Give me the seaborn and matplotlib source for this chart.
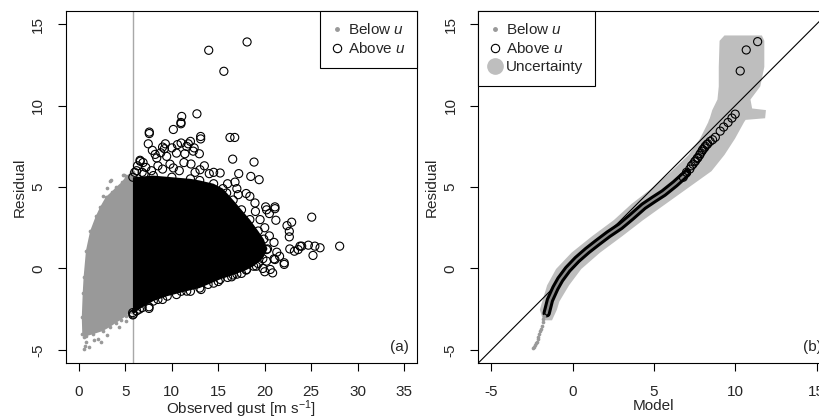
import matplotlib
matplotlib.use("Agg")
import matplotlib.pyplot as plt
from matplotlib.lines import Line2D
import seaborn as sns
import pandas as pd

# ---------------- data ----------------
threshold_u = 5.8

# dense "below u" cloud outline (panel a)
below_cloud_x = [0.35, 0.3, 0.4, 0.5, 0.75, 1.2, 1.8, 2.3, 2.9, 3.5, 4.0, 4.6, 5.06, 5.6, 5.8,
                 5.8, 5.5, 5.06, 4.5, 4.0, 3.3, 2.55, 1.47, 0.8, 0.57]
below_cloud_y = [-4.0, -3.0, -1.5, -0.5, 1.1, 2.3, 3.2, 3.8, 4.4, 4.7, 5.0, 5.3, 5.65, 5.9, 5.9,
                 -2.6, -2.7, -2.92, -3.15, -3.33, -3.6, -3.84, -4.04, -4.15, -4.2]
below_stray_x = [0.57, 0.6, 1.1, 2.37, 0.7, 1.6, 3.0, 2.0, 4.3, 5.1, 3.45, 4.88, 2.55, 3.34, 2.98, 4.77]
below_stray_y = [-4.96, -4.75, -4.84, -4.5, -4.5, -4.4, -4.1, -4.3, -3.6, -3.2, 5.4, 5.76, 4.43, 5.35, 4.94, 5.76]

# dense "above u" cloud outline (panel a)
above_cloud_x = [5.8, 5.85, 6.5, 8.0, 9.5, 11.6, 13.0, 15.2, 16.6, 18.0, 18.8, 19.8, 20.3, 19.9,
                 19.3, 18.4, 17.5, 16.6, 15.5, 14.5, 13.0, 12.0, 10.0, 8.0, 5.8]
above_cloud_y = [-2.85, -2.8, -2.5, -2.0, -1.7, -1.39, -1.2, -0.67, -0.4, -0.1, 0.14, 0.6, 1.2, 1.8,
                 2.3, 3.0, 3.6, 4.2, 4.9, 5.2, 5.4, 5.5, 5.6, 5.7, 5.6]
above_x = [18.1, 13.97, 15.6, 12.7, 11.06, 10.98, 10.98, 10.16, 7.57, 7.57, 13.1, 13.1, 16.26, 16.77,
           7.46, 9.3, 11.77, 9.0, 9.2, 12.3, 7.9, 11.4, 12.96, 16.55, 18.85, 6.57, 6.6, 17.2, 18.5,
           19.4, 15.2, 12.06, 10.16, 14.03, 13.03, 8.37, 9.44, 10.5, 11.6, 18.4, 18.95, 20.1, 21.1,
           17.15, 15.9, 20.5, 21.2, 22.4, 22.9, 22.65, 22.65, 25.06, 28.07, 24.7, 25.4, 25.96, 25.2,
           23.8, 23.6, 23.2, 22.7, 22.1, 22.1, 21.0, 20.6, 20.85, 21.6, 20.2, 21.1, 16.44, 13.14,
           7.54, 7.54, 5.78, 13.9, 18.06, 19.1, 20.2, 21.3, 23.98, 20.2, 21.1,
           6.2, 6.8, 7.2, 7.8, 8.5, 9.0, 9.8, 10.8, 11.3, 12.5, 13.5, 14.5, 8.2, 8.8, 10.0, 10.6,
           11.0, 12.0, 12.4, 7.0, 6.0, 6.3, 6.9, 16.0, 17.0, 16.8, 18.0, 19.0, 19.5, 20.0, 20.5,
           21.0, 19.8, 17.5, 15.0, 12.0, 10.5, 9.0, 8.5, 6.8, 6.2, 11.0, 14.5, 16.0, 17.0, 19.3, 20.0]
above_y = [13.9, 13.39, 12.1, 9.49, 9.33, 8.96, 8.88, 8.53, 8.37, 8.28, 8.1, 7.95, 8.04, 8.04,
           7.65, 7.65, 7.65, 7.45, 7.35, 7.2, 7.25, 7.04, 7.04, 6.71, 6.53, 6.64, 6.58, 5.82, 5.65,
           5.45, 5.86, 6.41, 6.17, 5.82, 6.06, 6.78, 6.88, 7.08, 7.49, 4.43, 4.02, 3.78, 3.78,
           4.53, 4.63, 3.37, 2.96, 2.63, 2.84, 2.28, 1.94, 3.15, 1.37, 1.43, 1.37, 1.27, 0.8,
           1.37, 1.16, 1.06, 1.2, 0.35, 0.25, 0.59, -0.06, -0.27, 0.75, 0.45, 0.55, -0.51, -1.29,
           -2.45, -2.35, -2.71, -0.98, -0.06, 0.14, 1.16, 1.0, 1.37, 3.6, 3.67,
           6.0, 5.9, 6.2, 6.0, 6.3, 6.1, 6.4, 6.0, 6.5, 5.9, 6.3, 5.9, 7.0, 7.1, 7.4, 7.6,
           7.7, 7.8, 7.4, 5.8, 5.9, 6.3, 6.5, 5.2, 4.9, 5.3, 4.6, 3.5, 3.0, 2.5, 2.0,
           1.6, 0.0, -0.3, -0.8, -1.4, -1.6, -1.9, -1.9, -2.4, -2.6, -1.4, -0.9, -0.55, -0.35, 0.3, -0.2]

# panel b: QQ
band_y = [-3.15, -2.5, -2.0, -1.0, 0.0, 1.0, 2.0, 3.0, 4.0, 5.0, 6.0, 7.0, 8.0, 9.0, 9.15, 9.25,
          9.75, 9.85, 10.4, 11.2, 12.4, 14.0, 14.33]
band_xl = [-1.85, -2.05, -1.9, -1.6, -1.05, -0.1, 1.15, 2.5, 3.6, 4.9, 6.05, 7.1, 7.8, 8.3, 8.35,
           8.4, 8.55, 8.6, 8.87, 8.95, 8.95, 9.0, 9.3]
band_xr = [-1.3, -1.0, -0.85, -0.25, 0.5, 1.65, 3.0, 4.3, 5.7, 7.1, 8.5, 9.3, 9.95, 10.5, 10.6,
           11.8, 11.85, 11.0, 10.9, 11.5, 11.75, 11.75, 11.6]
qq_line_x = [-1.6, -1.4, -1.06, -0.76, -0.3, 0.27, 0.9, 1.5, 2.2, 2.93, 3.6, 4.36, 5.0, 5.59, 6.3, 7.03]
qq_line_y = [-2.75, -1.95, -1.2, -0.67, -0.05, 0.55, 1.1, 1.57, 2.1, 2.59, 3.15, 3.82, 4.25, 4.63, 5.2, 5.86]
qq_above_x = [6.8, 7.0, 7.2, 7.3, 7.4, 7.5, 7.55, 7.65, 7.7, 7.8, 7.85, 7.95, 8.0, 8.1, 8.15, 8.25,
              8.3, 8.45, 8.6, 8.77, 9.07, 9.28, 9.55, 9.79, 9.99, 10.3, 10.67, 11.37]
qq_above_y = [5.6, 5.9, 6.1, 6.3, 6.4, 6.55, 6.6, 6.75, 6.8, 6.95, 7.05, 7.2, 7.3, 7.4, 7.5, 7.6,
              7.65, 7.8, 7.9, 8.05, 8.43, 8.68, 8.96, 9.23, 9.47, 12.12, 13.41, 13.92]
qq_below_x = [-1.75, -1.8, -1.85, -1.9, -1.95, -2.0, -2.05, -2.1, -2.15, -2.2, -2.25, -2.3, -2.35, -2.45]
qq_below_y = [-2.9, -3.1, -3.3, -3.5, -3.7, -3.85, -4.05, -4.2, -4.35, -4.5, -4.6, -4.7, -4.8, -4.9]

xticks_a = [0, 5, 10, 15, 20, 25, 30, 35]
xticks_b = [-5, 0, 5, 10, 15]
yticks = [-5, 0, 5, 10, 15]

# ---------------- style ----------------
sns.set_theme(style="white")
plt.rcParams["font.family"] = ["Liberation Sans", "DejaVu Sans"]
plt.rcParams["mathtext.fontset"] = "custom"
plt.rcParams["mathtext.rm"] = "Liberation Sans"
plt.rcParams["mathtext.it"] = "Liberation Sans:italic"
plt.rcParams["mathtext.default"] = "regular"

GRAY_PT = "#999999"
BAND = "#BEBEBE"
FS = 11

fig = plt.figure(figsize=(8.19, 4.20), dpi=100)
axa = fig.add_axes([66 / 819, 57 / 420, 351 / 819, 352 / 420])
axb = fig.add_axes([478.3 / 819, 57 / 420, 351.4 / 819, 352 / 420])


def style_axes(ax, xticks, xlim):
    ax.set_xlim(*xlim)
    ax.set_ylim(-5.8, 15.8)
    ax.set_xticks(xticks)
    ax.set_yticks(yticks)
    ax.set_xticklabels([str(t) for t in xticks], fontsize=FS)
    ax.set_yticklabels([str(t) for t in yticks], fontsize=FS, rotation=90, va="center")
    ax.tick_params(axis="both", direction="out", length=6, width=0.8, color="black",
                   bottom=True, left=True)
    ax.tick_params(axis="x", pad=10)
    ax.tick_params(axis="y", pad=9)
    for s in ax.spines.values():
        s.set_color("black")
        s.set_linewidth(0.8)
    ax.grid(False)


def make_legend(ax, handles, labels, loc):
    lg = ax.legend(handles, labels, loc=loc, borderaxespad=0, fancybox=False, framealpha=1,
                   edgecolor="black", fontsize=FS, handlelength=0.7, handletextpad=0.38,
                   borderpad=0.75, labelspacing=0.25)
    lg.get_frame().set_linewidth(0.8)
    return lg


# ---------------- panel (a) ----------------
axa.axvline(threshold_u, color="#A8A8A8", lw=1.0, zorder=1)
axa.fill(below_cloud_x, below_cloud_y, color=GRAY_PT, lw=0, zorder=2)
sns.scatterplot(x=below_cloud_x + below_stray_x, y=below_cloud_y + below_stray_y, ax=axa,
                color=GRAY_PT, s=7, linewidth=0, zorder=2)
axa.fill(above_cloud_x, above_cloud_y, color="black", lw=0, zorder=3)
sns.scatterplot(x=above_cloud_x + above_x, y=above_cloud_y + above_y, ax=axa,
                marker="o", s=34, facecolor="none", edgecolor="black", linewidth=0.8, zorder=4)
style_axes(axa, xticks_a, (-1.4, 36.4))
axa.set_xlabel(r"Observed gust [m s$^{-1}$]", fontsize=FS)
axa.set_ylabel("Residual", fontsize=FS)
axa.xaxis.set_label_coords(0.5, -0.101)
axa.yaxis.set_label_coords(-0.112, 0.5)
axa.text(0.977, 0.045, "(a)", transform=axa.transAxes, ha="right", va="center", fontsize=FS)

h_below = Line2D([], [], ls="none", marker="o", ms=2.5, color=GRAY_PT, mec=GRAY_PT)
h_above = Line2D([], [], ls="none", marker="o", ms=6, mfc="none", mec="black", mew=0.8)
h_unc = Line2D([], [], ls="none", marker="o", ms=11, color=BAND, mec=BAND)
make_legend(axa, [h_below, h_above], [r"Below $\it{u}$", r"Above $\it{u}$"], "upper right")

# ---------------- panel (b) ----------------
axb.fill_betweenx(band_y, band_xl, band_xr, color=BAND, lw=0, zorder=1)
axb.plot([-5.8, 15.8], [-5.8, 15.8], color="black", lw=0.8, zorder=2)
qq_df = pd.DataFrame({"model": qq_line_x, "resid": qq_line_y})
sns.lineplot(data=qq_df, x="model", y="resid", ax=axb, color="black", lw=6, sort=False,
             solid_capstyle="round", zorder=3)
sns.lineplot(data=qq_df, x="model", y="resid", ax=axb, color="#8C8C8C", lw=1.6, sort=False,
             zorder=4)
sns.scatterplot(x=qq_below_x, y=qq_below_y, ax=axb, color=GRAY_PT, s=7, linewidth=0, zorder=3)
sns.scatterplot(x=qq_above_x, y=qq_above_y, ax=axb, marker="o", s=34, facecolor="none",
                edgecolor="black", linewidth=0.8, zorder=5)
style_axes(axb, xticks_b, (-5.8, 15.8))
axb.set_xlabel("Model", fontsize=FS)
axb.set_ylabel("Residual", fontsize=FS)
axb.xaxis.set_label_coords(0.5, -0.101)
axb.yaxis.set_label_coords(-0.112, 0.5)
axb.text(0.977, 0.045, "(b)", transform=axb.transAxes, ha="right", va="center", fontsize=FS)
make_legend(axb, [h_below, h_above, h_unc],
            [r"Below $\it{u}$", r"Above $\it{u}$", "Uncertainty"], "upper left")

fig.savefig("out.png", dpi=100)
